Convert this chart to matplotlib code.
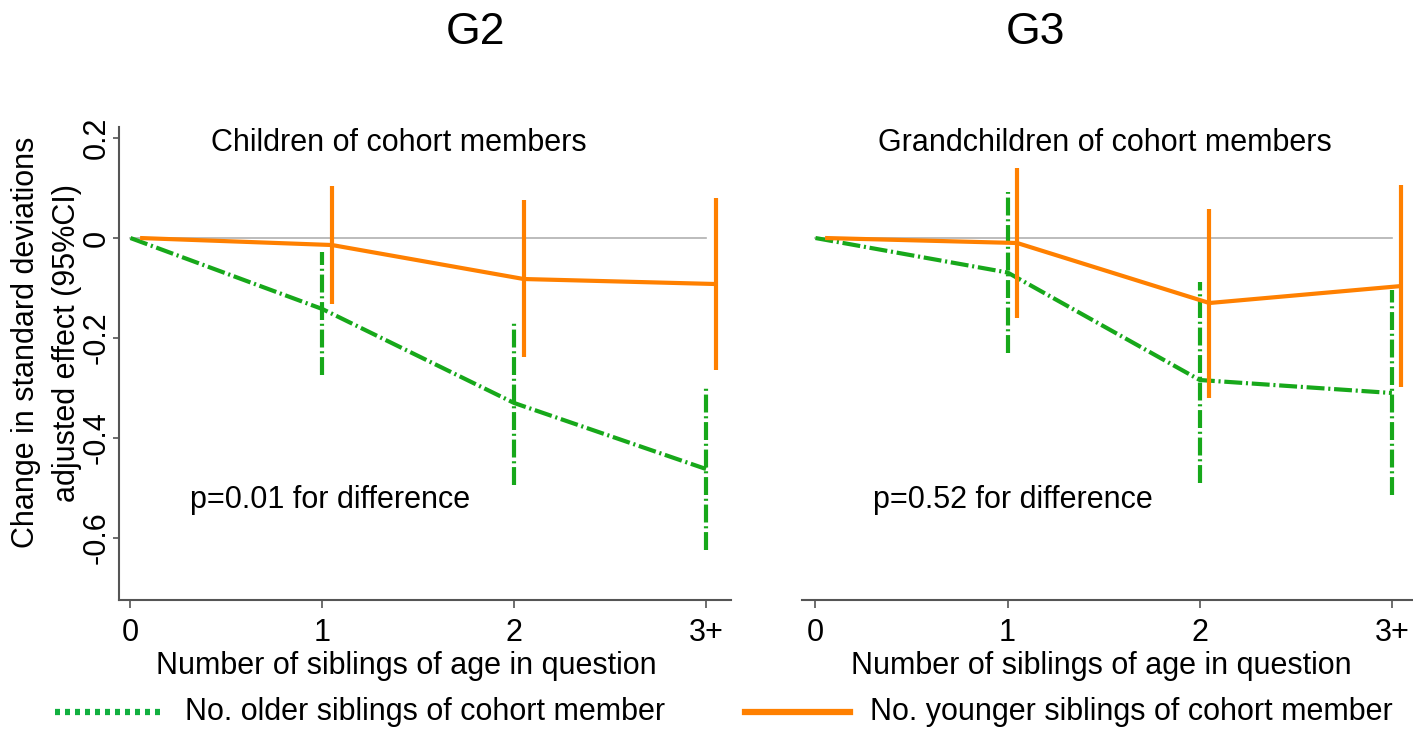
import matplotlib
matplotlib.use("Agg")
import matplotlib.pyplot as plt
from matplotlib.lines import Line2D
import numpy as np

plt.rcParams['font.family'] = ['Liberation Sans', 'DejaVu Sans']
plt.rcParams['axes.unicode_minus'] = False

# data
cats = ['0', '1', '2', '3+']
yticks = [0.2, 0, -0.2, -0.4, -0.6]
ytick_labels = ['0.2', '0', '-0.2', '-0.4', '-0.6']

# G2 - children of cohort members
g2_older = [0, -0.142, -0.330, -0.462]
g2_older_lo = [-0.274, -0.494, -0.624]
g2_older_hi = [-0.028, -0.168, -0.300]
g2_younger = [0, -0.014, -0.082, -0.092]
g2_younger_lo = [-0.132, -0.238, -0.264]
g2_younger_hi = [0.104, 0.076, 0.080]

# G3 - grandchildren of cohort members
g3_older = [0, -0.069, -0.284, -0.310]
g3_older_lo = [-0.230, -0.490, -0.514]
g3_older_hi = [0.092, -0.088, -0.104]
g3_younger = [0, -0.010, -0.130, -0.096]
g3_younger_lo = [-0.160, -0.320, -0.298]
g3_younger_hi = [0.140, 0.058, 0.106]

green = '#17a81a'
orange = '#ff8000'
dashdot = (0, (4.3, 0.9, 0.5, 0.9))
shift = 0.05  # younger series is nudged right

fig = plt.figure(figsize=(14.13, 7.53), dpi=100)
ax1 = fig.add_axes([0.0842, 0.2032, 0.4331, 0.6281])
ax2 = fig.add_axes([0.5676, 0.2032, 0.4324, 0.6281])

panels = [
    (ax1, g2_older, g2_older_lo, g2_older_hi, g2_younger, g2_younger_lo, g2_younger_hi,
     'Children of cohort members', 'p=0.01 for difference', (-0.06, 3.13)),
    (ax2, g3_older, g3_older_lo, g3_older_hi, g3_younger, g3_younger_lo, g3_younger_hi,
     'Grandchildren of cohort members', 'p=0.52 for difference', (-0.07, 3.11)),
]

for ax, old, old_lo, old_hi, yng, yng_lo, yng_hi, sub, ptxt, xl in panels:
    x = np.arange(len(cats))
    ax.plot([0, 3], [0, 0], color='#b0b0b0', lw=1.2, zorder=1)

    # older siblings
    ax.plot(x, old, color=green, lw=3, linestyle=dashdot, zorder=2)
    for i in range(1, len(cats)):
        ax.plot([x[i], x[i]], [old_lo[i - 1], old_hi[i - 1]], color=green, lw=3,
                linestyle=dashdot, zorder=2)

    # younger siblings
    ax.plot(x + shift, yng, color=orange, lw=3, solid_capstyle='butt', zorder=3)
    for i in range(1, len(cats)):
        ax.plot([x[i] + shift, x[i] + shift], [yng_lo[i - 1], yng_hi[i - 1]],
                color=orange, lw=3, solid_capstyle='butt', zorder=3)

    ax.set_xlim(*xl)
    ax.set_ylim(-0.724, 0.222)
    ax.set_xticks(x)
    ax.set_xticklabels(cats, fontsize=22)
    ax.tick_params(axis='x', length=6, width=1.2, color='#555555', pad=7)
    ax.set_xlabel('Number of siblings of age in question', fontsize=22, va='center')

    for s in ['top', 'right']:
        ax.spines[s].set_visible(False)
    ax.spines['bottom'].set_color('#555555')
    ax.spines['bottom'].set_linewidth(1.5)

    ax.text(1.4 if ax is ax1 else 1.506, 0.19, sub, fontsize=22, ha='center', va='center')
    ax.text(1.04 if ax is ax1 else 1.026, -0.524, ptxt, fontsize=22, ha='center', va='center')

ax1.set_yticks(yticks)
ax1.set_yticklabels(ytick_labels, fontsize=22, rotation=90, va='center')
ax1.tick_params(axis='y', length=4, width=1.2, color='#555555', pad=1)
ax1.spines['left'].set_color('#555555')
ax1.spines['left'].set_linewidth(1.5)
ax1.xaxis.set_label_coords(0.47, -0.140)

ax2.spines['left'].set_visible(False)
ax2.set_yticks([])
ax2.xaxis.set_label_coords(0.49, -0.140)

fig.text(0.033, 0.545, 'Change in standard deviations\nadjusted effect (95%CI)',
         fontsize=22, rotation=90, ha='center', va='center', multialignment='center',
         linespacing=1.45)

fig.text(475 / 1413, 1 - 32 / 753, 'G2', fontsize=32, ha='center', va='center')
fig.text(1035 / 1413, 1 - 32 / 753, 'G3', fontsize=32, ha='center', va='center')

# legend along the bottom
ly = 1 - 712 / 753
fig.add_artist(Line2D([55 / 1413, 165 / 1413], [ly, ly], color='#12b040', lw=4.5,
                      linestyle=(0, (0.8, 0.8))))
fig.text(185 / 1413, ly, 'No. older siblings of cohort member', fontsize=22,
         ha='left', va='center')
fig.add_artist(Line2D([745 / 1413, 850 / 1413], [ly, ly], color=orange, lw=4.5))
fig.text(870 / 1413, ly, 'No. younger siblings of cohort member', fontsize=22,
         ha='left', va='center')

fig.savefig('out.png', dpi=100)
